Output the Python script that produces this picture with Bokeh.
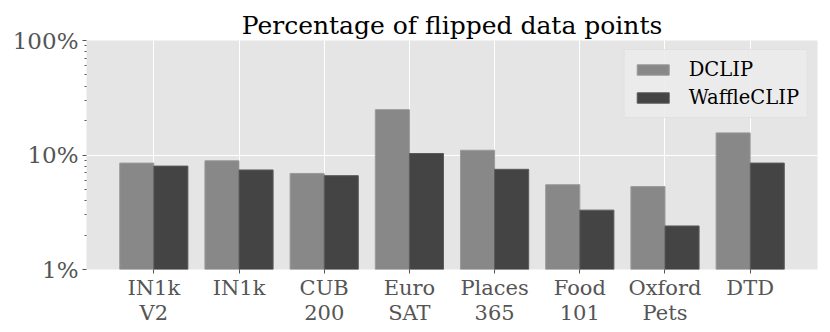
from bokeh.plotting import figure
from bokeh.models import ColumnDataSource, Range1d, FixedTicker, Legend, LegendItem
from bokeh.transform import dodge
from bokeh.embed import file_html
from bokeh.resources import INLINE

categories = ["IN1k\nV2", "IN1k", "CUB\n200", "Euro\nSAT", "Places\n365", "Food\n101", "Oxford\nPets", "DTD"]
dclip = [8.5, 8.9, 6.9, 24.9, 11.0, 5.5, 5.3, 15.6]
waffleclip = [8.0, 7.4, 6.6, 10.3, 7.5, 3.3, 2.4, 8.5]
y_ticks = [1, 10, 100]
y_tick_labels = ["1%", "10%", "100%"]

FONT = "DejaVu Serif"
idx = list(range(len(categories)))
src = ColumnDataSource(dict(x=idx, dclip=dclip, waffle=waffleclip))

p = figure(width=822, height=324, y_axis_type="log",
           x_range=Range1d(-0.79, len(categories) - 1 + 0.79),
           y_range=Range1d(1, 100),
           output_backend="svg", toolbar_location=None,
           min_border_left=86, min_border_right=5, min_border_top=40, min_border_bottom=55,
           title="Percentage of flipped data points")
p.frame_width = 731
p.frame_height = 229

p.title.text_font = FONT
p.title.text_font_size = "25px"
p.title.text_font_style = "normal"
p.title.text_color = "#000000"
p.title.align = "center"
p.title.offset = 0
p.title.standoff = 2

p.background_fill_color = "#e5e5e5"
p.border_fill_color = "white"
p.outline_line_color = None

r1 = p.vbar(x=dodge("x", -0.2), top="dclip", bottom=1, width=0.4, source=src,
            fill_color="#888888", line_color="#9a9a9a", line_width=1)
r2 = p.vbar(x=dodge("x", 0.2), top="waffle", bottom=1, width=0.4, source=src,
            fill_color="#444444", line_color="#5a5a5a", line_width=1)

# axes
p.xaxis.ticker = FixedTicker(ticks=idx)
p.xaxis.major_label_overrides = {i: c for i, c in enumerate(categories)}
minor = [m * d for d in (1, 10) for m in range(2, 10)]
p.yaxis.ticker = FixedTicker(ticks=y_ticks, minor_ticks=minor)
p.yaxis.major_label_overrides = {t: l for t, l in zip(y_ticks, y_tick_labels)}

for ax in (p.xaxis[0], p.yaxis[0]):
    ax.axis_line_color = None
    ax.major_tick_line_color = "#555555"
    ax.major_tick_out = 4
    ax.major_tick_in = 0
    ax.minor_tick_line_color = "#555555"
    ax.minor_tick_out = 2
    ax.minor_tick_in = 0
    ax.major_label_text_font = FONT
    ax.major_label_text_font_size = "21px"
    ax.major_label_text_color = "#555555"
p.xaxis.minor_tick_line_color = None
p.xaxis.major_label_text_line_height = 1.05
p.yaxis.major_label_text_font_size = "23px"
p.xaxis.major_label_standoff = 2
p.yaxis.major_label_standoff = 4

p.xgrid.ticker = FixedTicker(ticks=idx)
p.xgrid.grid_line_color = "white"
p.xgrid.grid_line_width = 1
p.ygrid.grid_line_color = "white"
p.ygrid.grid_line_width = 1

legend = Legend(items=[LegendItem(label="DCLIP", renderers=[r1]),
                       LegendItem(label="WaffleCLIP", renderers=[r2])],
                location="top_right")
legend.label_text_font = FONT
legend.label_text_font_size = "19.5px"
legend.label_text_color = "#000000"
legend.background_fill_color = "#ebebeb"
legend.background_fill_alpha = 0.9
legend.border_line_color = "#d8d8d8"
legend.border_line_width = 1
legend.glyph_width = 40
legend.glyph_height = 13
legend.label_standoff = 16
legend.spacing = 5
legend.padding = 8
legend.margin = 9
p.add_layout(legend)

open("out.html", "w").write(file_html(p, INLINE))
